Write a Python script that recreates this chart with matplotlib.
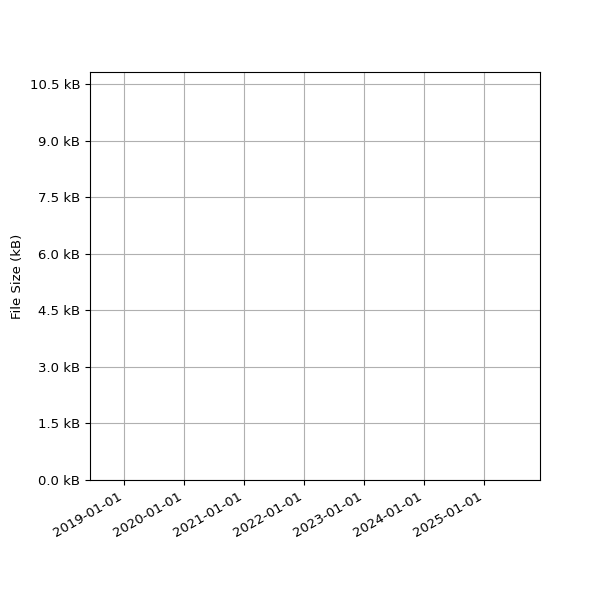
import matplotlib
matplotlib.use("Agg")
import matplotlib.pyplot as plt
import matplotlib.dates as mdates
from matplotlib.ticker import MultipleLocator, FuncFormatter
import datetime as dt

# Data (the reference shows no visible series)
dates = []
sizes_kb = []

x_limits = [dt.datetime(2018, 6, 8), dt.datetime(2025, 12, 8)]
y_limits = [0.0, 10.82]
y_step = 1.5
y_label = "File Size (kB)"

plt.rcParams["font.size"] = 9.5

fig, ax = plt.subplots(figsize=(6, 6), dpi=100)
ax.plot(dates, sizes_kb)
ax.set_xlim(mdates.date2num(x_limits[0]), mdates.date2num(x_limits[1]))
ax.set_ylim(*y_limits)
ax.xaxis.set_major_locator(mdates.YearLocator())
ax.xaxis.set_major_formatter(mdates.DateFormatter("%Y-%m-%d"))
ax.yaxis.set_major_locator(MultipleLocator(y_step))
ax.yaxis.set_major_formatter(FuncFormatter(lambda v, p: f"{v:.1f} kB"))
ax.set_ylabel(y_label)
ax.grid(True)
fig.autofmt_xdate()
fig.subplots_adjust(left=0.15, right=0.9, top=0.88, bottom=0.2)
fig.savefig("out.png", dpi=100)
